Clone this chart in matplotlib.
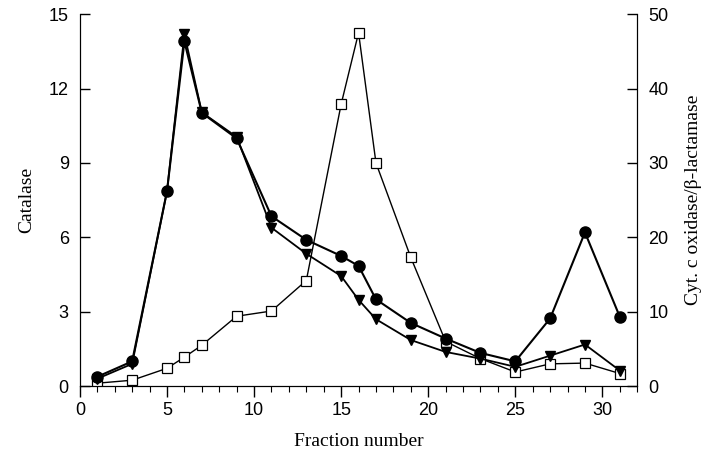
import matplotlib
matplotlib.use("Agg")
import matplotlib.pyplot as plt
import numpy as np

# fraction numbers
fractions = [1, 3, 5, 6, 7, 9, 11, 13, 15, 16, 17, 19, 21, 23, 25, 27, 29, 31]

# catalase (left axis)
catalase = [0.38, 1.0, 7.86, 13.9, 11.02, 9.99, 6.85, 5.9, 5.25, 4.85, 3.5,
            2.55, 1.92, 1.34, 1.0, 2.73, 6.2, 2.8]

# right axis series (0-50)
beta_lactamase = [1.0, 3.0, 26.2, 47.3, 36.8, 33.5, 21.3, 17.8, 14.8, 11.6, 9.0,
                  6.2, 4.6, 3.7, 2.6, 4.1, 5.6, 2.1]
cyt_oxidase = [0.4, 0.8, 2.4, 3.9, 5.5, 9.4, 10.1, 14.2, 37.9, 47.5, 30.0,
               17.3, 6.0, 3.7, 1.9, 3.0, 3.1, 1.7]

plt.rcParams['font.family'] = ['Liberation Sans', 'DejaVu Sans']

fig, ax = plt.subplots(figsize=(7.2, 4.57), dpi=100)
fig.subplots_adjust(left=0.111, right=0.885, bottom=0.155, top=0.969)
ax2 = ax.twinx()

# triangle at fraction 5 sits under the circle, so leave its marker out
tri_marks = [i for i in range(len(fractions)) if fractions[i] != 5]
ax2.plot(fractions, beta_lactamase, '-v', color='black', lw=1.3, ms=7.5,
         markevery=tri_marks, zorder=2)
ax2.plot(fractions, cyt_oxidase, '-s', color='black', lw=1.0, ms=7,
         markerfacecolor='white', markeredgewidth=0.9, zorder=1)
ax.plot(fractions, catalase, '-o', color='black', lw=1.5, ms=8, zorder=3)
ax.set_zorder(ax2.get_zorder() + 1)
ax.patch.set_visible(False)

ax.set_xlim(0, 32)
ax.set_ylim(0, 15)
ax2.set_ylim(0, 50)
ax.set_xticks(np.arange(0, 31, 5))
ax.set_xticks(np.arange(0, 33, 1), minor=True)
ax.set_yticks([0, 3, 6, 9, 12, 15])
ax2.set_yticks([0, 10, 20, 30, 40, 50])

for a in (ax, ax2):
    a.spines['top'].set_visible(False)
    a.tick_params(axis='y', direction='in', length=7, labelsize=13, width=1)
ax.tick_params(axis='x', which='major', direction='out', length=8, labelsize=13, width=1)
ax.tick_params(axis='x', which='minor', direction='out', length=4, width=0.8)
ax.tick_params(axis='y', pad=8)
ax2.tick_params(axis='y', pad=8)

ax.set_xlabel('Fraction number', family=['Liberation Serif'], fontsize=14, labelpad=10)
ax.set_ylabel('Catalase', family=['Liberation Serif'], fontsize=14, labelpad=10)
ax2.set_ylabel('Cyt. c oxidase/\u03b2-lactamase', family=['Liberation Serif', 'DejaVu Serif'],
               fontsize=14, labelpad=12)

fig.savefig('out.png', dpi=100)
